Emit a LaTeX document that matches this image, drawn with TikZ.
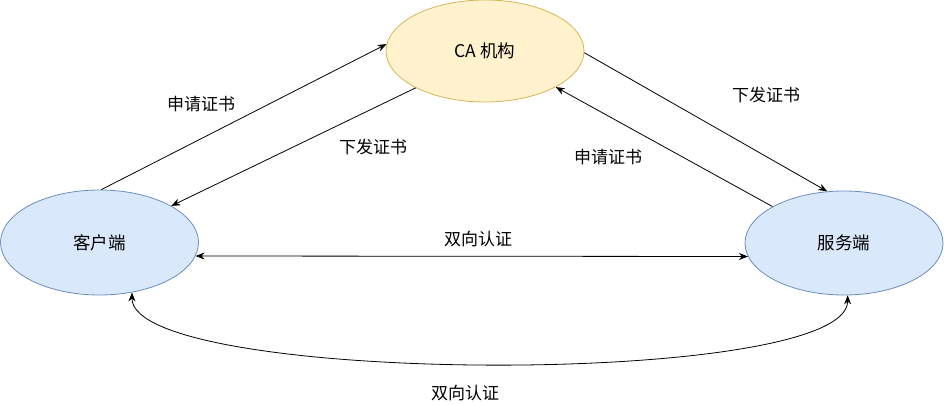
\documentclass[tikz,border=0pt]{standalone}
\usepackage{fontspec}
\setmainfont{Noto Sans CJK SC}
\usetikzlibrary{shapes.geometric,arrows.meta}
\definecolor{cafill}{HTML}{FFF2CC}
\definecolor{cadraw}{HTML}{D6B656}
\definecolor{bfill}{HTML}{DAE8FC}
\definecolor{bdraw}{HTML}{6C8EBF}
\tikzset{
  ell/.style={ellipse, inner sep=0pt, line width=0.8pt, font=\fontsize{17.5}{20}\selectfont},
  conn/.style={line width=0.8pt, -{Stealth[length=9pt,width=7pt]}},
  lbl/.style={font=\fontsize{17}{20}\selectfont, inner sep=0pt}
}
\begin{document}
\begin{tikzpicture}[x=1pt,y=1pt]
\useasboundingbox (0,0) rectangle (944,404);
\node[ell, draw=cadraw, fill=cafill, minimum width=198pt, minimum height=102pt] (ca) at (485,353) {CA 机构};
\node[ell, draw=bdraw, fill=bfill, minimum width=198pt, minimum height=105pt] (client) at (99.5,161.5) {客户端};
\node[ell, draw=bdraw, fill=bfill, minimum width=198pt, minimum height=104pt] (server) at (844,161) {服务端};

\draw[conn] (client.88) -- (ca.176);
\draw[conn] (ca.208) -- (client.27);
\draw[conn] (ca.-1) -- (server.108);
\draw[conn] (server.153) -- (ca.-27);
\draw[conn, {Stealth[length=9pt,width=7pt]}-{Stealth[length=9pt,width=7pt]}] (client.-8) -- (server.-172);
\draw[conn, {Stealth[length=9pt,width=7pt]}-{Stealth[length=9pt,width=7pt]}] (client.-57) .. controls +(0,-93) and +(0,-93) .. (server.-86);

\node[lbl] (l1) at (201,300) {申请证书};
\node[lbl] (l2) at (373,257) {下发证书};
\node[lbl] (l3) at (766,309) {下发证书};
\node[lbl] (l4) at (608,247) {申请证书};
\node[lbl] (l5) at (478,165) {双向认证};
\node[lbl] (l6) at (465,11) {双向认证};
\end{tikzpicture}
\end{document}
